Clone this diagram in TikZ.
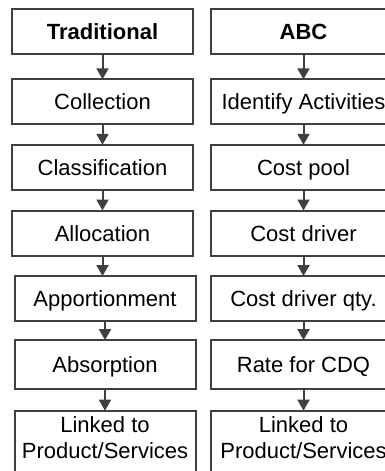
\documentclass[tikz,border=0pt]{standalone}
\usepackage{fontspec}
\setmainfont{Liberation Sans}
\usetikzlibrary{arrows.meta}
\definecolor{edgegray}{HTML}{404040}
\tikzset{
  stage/.style={draw=edgegray, line width=2pt, rectangle, fill=white,
    inner sep=0pt, align=center, text=black,
    font=\fontsize{22}{26.6}\selectfont,
    text height=16pt, text depth=0pt},
  lastrow/.style={text height=, text depth=14pt},
  flow/.style={draw=edgegray, line width=2pt,
    -{Triangle[width=12pt,length=11pt]}, shorten >=-1pt, color=edgegray},
}
\begin{document}
\begin{tikzpicture}[x=1pt, y=-1pt]
\useasboundingbox (0,0) rectangle (384,471);

% Traditional costing column
\node[stage, minimum width=181pt, minimum height=45pt] (t1) at (102.5,31.7) {\bfseries Traditional};
\node[stage, minimum width=181pt, minimum height=45pt] (t2) at (102.5,101.8) {Collection};
\node[stage, minimum width=181pt, minimum height=45pt] (t3) at (102.5,167.3) {Classification};
\node[stage, minimum width=181pt, minimum height=45pt] (t4) at (102.5,233) {Allocation};
\node[stage, minimum width=181pt, minimum height=45pt] (t5) at (105,298.5) {Apportionment};
\node[stage, minimum width=181pt, minimum height=49pt] (t6) at (105,364.6) {Absorption};
\node[stage, lastrow, minimum width=181pt, minimum height=68pt] (t7) at (105,444.7) {Linked to\\Product/Services};

% Activity-based costing column
\node[stage, minimum width=185pt, minimum height=45pt] (a1) at (303.5,31.7) {\bfseries ABC};
\node[stage, minimum width=185pt, minimum height=45pt] (a2) at (303.5,101.8) {Identify Activities};
\node[stage, minimum width=185pt, minimum height=45pt] (a3) at (303.5,167.3) {Cost pool};
\node[stage, minimum width=185pt, minimum height=45pt] (a4) at (303.5,233) {Cost driver};
\node[stage, minimum width=185pt, minimum height=45pt] (a5) at (303.5,298.5) {Cost driver qty.};
\node[stage, minimum width=185pt, minimum height=49pt] (a6) at (303.5,364.6) {Rate for CDQ};
\node[stage, lastrow, minimum width=185pt, minimum height=68pt] (a7) at (303.5,444.7) {Linked to\\Product/Services};

% connectors
\foreach \p/\n in {t1/t2, t2/t3, t3/t4, a1/a2, a2/a3, a3/a4, a4/a5, a5/a6, a6/a7, t5/t6, t6/t7}
  \draw[flow] (\p.south) -- (\n.north);
\draw[flow] (t4.south) -- (t4.south |- t5.north);
\end{tikzpicture}
\end{document}
